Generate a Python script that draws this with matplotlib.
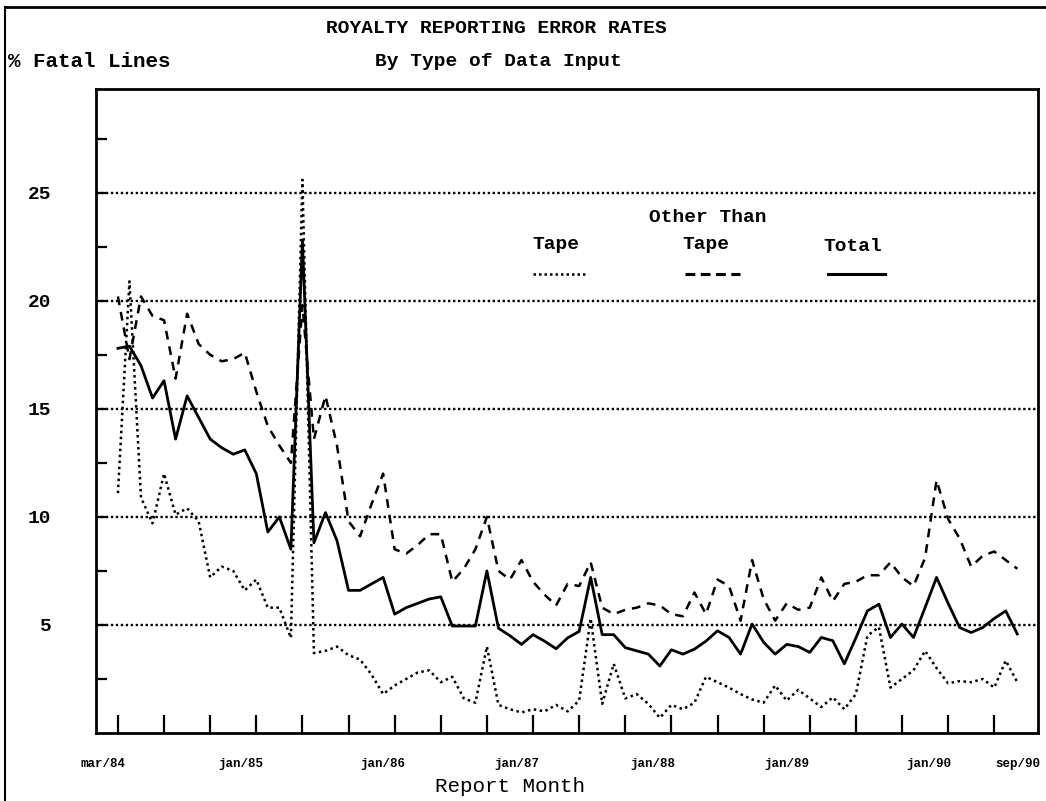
import matplotlib
matplotlib.use('Agg')
import matplotlib.pyplot as plt
from matplotlib.lines import Line2D

# monthly report data, mar/84 .. sep/90 (79 months)
tape = [11.1, 20.9, 10.9, 9.7, 12.0, 10.1, 10.4, 9.8, 7.2, 7.7,
        7.5, 6.6, 7.1, 5.8, 5.8, 4.4, 25.6, 3.7, 3.8, 4.0,
        3.6, 3.4, 2.7, 1.8, 2.2, 2.5, 2.8, 2.9, 2.35, 2.6,
        1.6, 1.4, 4.0, 1.3, 1.1, 0.95, 1.1, 1.0, 1.3, 1.0,
        1.5, 5.3, 1.35, 3.2, 1.6, 1.8, 1.35, 0.7, 1.3, 1.1,
        1.4, 2.6, 2.35, 2.1, 1.8, 1.55, 1.4, 2.2, 1.5, 2.0,
        1.6, 1.2, 1.65, 1.1, 1.8, 4.5, 4.9, 2.1, 2.5, 2.9,
        3.8, 3.0, 2.3, 2.4, 2.35, 2.5, 2.1, 3.35, 2.35]
other = [20.2, 17.3, 20.2, 19.3, 19.1, 16.4, 19.4, 18.0, 17.5, 17.2,
         17.3, 17.6, 15.8, 14.2, 13.3, 12.5, 19.8, 13.6, 15.6, 13.3,
         9.8, 9.1, 10.6, 12.0, 8.5, 8.3, 8.7, 9.2, 9.2, 7.0,
         7.6, 8.5, 10.0, 7.5, 7.1, 8.0, 7.0, 6.4, 5.9, 6.9,
         6.8, 7.9, 5.8, 5.5, 5.7, 5.8, 6.0, 5.9, 5.5, 5.4,
         6.5, 5.5, 7.1, 6.8, 5.2, 8.0, 6.2, 5.2, 6.0, 5.7,
         5.8, 7.2, 6.1, 6.9, 7.0, 7.3, 7.3, 7.9, 7.2, 6.8,
         8.1, 11.7, 9.9, 9.0, 7.7, 8.2, 8.4, 8.0, 7.6]
total = [17.8, 17.9, 17.0, 15.5, 16.3, 13.6, 15.6, 14.6, 13.6, 13.2,
         12.9, 13.1, 12.0, 9.3, 10.0, 8.5, 22.8, 8.8, 10.2, 8.9,
         6.6, 6.6, 6.9, 7.2, 5.5, 5.8, 6.0, 6.2, 6.3, 4.95,
         4.95, 4.95, 7.5, 4.85, 4.5, 4.1, 4.55, 4.25, 3.9, 4.4,
         4.7, 7.2, 4.55, 4.55, 3.95, 3.8, 3.65, 3.1, 3.85, 3.65,
         3.88, 4.25, 4.73, 4.42, 3.65, 5.04, 4.2, 3.65, 4.1, 4.0,
         3.73, 4.42, 4.27, 3.2, 4.4, 5.65, 5.96, 4.42, 5.04, 4.42,
         5.8, 7.2, 6.0, 4.88, 4.65, 4.88, 5.3, 5.65, 4.58]
months = list(range(len(total)))

month_labels = ['mar/84', 'jan/85', 'jan/86', 'jan/87', 'jan/88', 'jan/89', 'jan/90', 'sep/90']
month_label_idx = [-1.3, 10.7, 23, 34.6, 46.4, 58, 70.3, 78]
grid_values = [5, 10, 15, 20, 25]

plt.rcParams['font.family'] = ['Liberation Mono', 'DejaVu Sans Mono']

fig = plt.figure(figsize=(10.46, 8.01), dpi=100)
ax = fig.add_axes([0.0918, 0.0849, 0.9006, 0.804])

# grid lines
for g in grid_values:
    ax.axhline(g, color='black', lw=1.7, ls=(0, (1, 1.1)), zorder=1)

ax.plot(months, tape, color='black', lw=1.8, ls=(0, (1, 1.4)), zorder=3)
ax.plot(months, other, color='black', lw=1.8, ls=(0, (3.5, 2.8)), zorder=3)
ax.plot(months, total, color='black', lw=2.0, ls='-', zorder=4)

ax.set_xlim(-1.9, 79.8)
ax.set_ylim(0, 29.8)

for s in ax.spines.values():
    s.set_linewidth(2)
    s.set_color('black')

# x: labels (no tick) + tick marks every 4 months
ax.xaxis.remove_overlapping_locs = False
ax.set_xticks(month_label_idx)
ax.set_xticklabels(month_labels, fontsize=9, fontweight='bold')
ax.tick_params(axis='x', which='major', length=0, pad=18)
ax.set_xticks(range(0, 77, 4), minor=True)
ax.tick_params(axis='x', which='minor', direction='in', length=13, width=1.6)

ax.set_yticks(grid_values)
ax.set_yticklabels([str(v) for v in grid_values], fontsize=14, fontweight='bold')
ax.tick_params(axis='y', which='major', direction='in', length=8, width=1.6, pad=32)
ax.set_yticks([2.5, 7.5, 12.5, 17.5, 22.5, 27.5], minor=True)
ax.tick_params(axis='y', which='minor', direction='in', length=8, width=1.6)

# legend drawn as text + sample lines
ax.text(0.6497, 0.7997, 'Other Than', transform=ax.transAxes, ha='center', va='center',
        fontsize=14, fontweight='bold')
ax.text(0.4883, 0.7578, 'Tape', transform=ax.transAxes, ha='center', va='center',
        fontsize=14, fontweight='bold')
ax.text(0.6476, 0.7578, 'Tape', transform=ax.transAxes, ha='center', va='center',
        fontsize=14, fontweight='bold')
ax.text(0.8036, 0.7547, 'Total', transform=ax.transAxes, ha='center', va='center',
        fontsize=14, fontweight='bold')
ax.add_line(Line2D([0.4639, 0.5223], [0.7127, 0.7127], transform=ax.transAxes,
                   color='black', lw=1.8, ls=(0, (1, 1.2))))
ax.add_line(Line2D([0.6253, 0.6837], [0.7127, 0.7127], transform=ax.transAxes,
                   color='black', lw=2.2, ls=(0, (3.2, 1.8))))
ax.add_line(Line2D([0.7771, 0.8376], [0.7127, 0.7127], transform=ax.transAxes,
                   color='black', lw=2.2, ls='-'))

# titles
fig.text(0.475, 0.965, 'ROYALTY REPORTING ERROR RATES', ha='center', va='center',
         fontsize=14, fontweight='bold')
fig.text(0.476, 0.9226, 'By Type of Data Input', ha='center', va='center',
         fontsize=14, fontweight='bold')
fig.text(0.0076, 0.9226, '% Fatal Lines', ha='left', va='center',
         fontsize=15, fontweight='bold')
fig.text(0.4876, 0.0175, 'Report Month', ha='center', va='center', fontsize=15)

# page border (top and left)
fig.add_artist(Line2D([0.0048, 1.0], [0.991, 0.991], color='black', lw=2))
fig.add_artist(Line2D([0.0048, 0.0048], [0.0, 0.991], color='black', lw=1.5))

fig.savefig('out.png', dpi=100)
